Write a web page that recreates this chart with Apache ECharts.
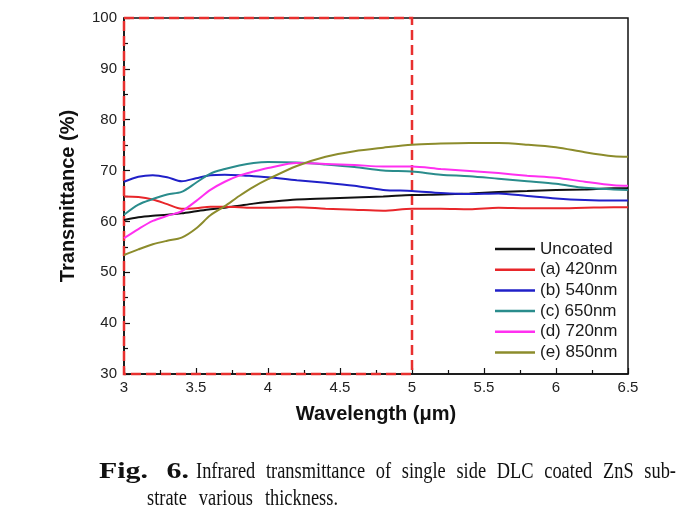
<!DOCTYPE html>
<html>
<head>
<meta charset="utf-8">
<script src="https://cdn.jsdelivr.net/npm/echarts@6/dist/echarts.min.js"></script>
<style>html,body{margin:0;padding:0;background:#fff;}#c{width:694px;height:518px;}</style>
</head>
<body>
<div id="c"></div>
<script>
var wavelength = [3.0, 3.1, 3.2, 3.3, 3.4, 3.5, 3.6, 3.7, 3.8, 3.9, 4.0, 4.2, 4.4, 4.6, 4.8, 5.0, 5.2, 5.4, 5.6, 5.8, 6.0, 6.2, 6.4, 6.5];
var uncoated = [60.3, 60.8, 61.1, 61.3, 61.6, 62.0, 62.4, 62.7, 63.1, 63.5, 63.8, 64.3, 64.5, 64.7, 64.9, 65.2, 65.3, 65.5, 65.8, 66.0, 66.2, 66.3, 66.5, 66.5];
var nm420 = [64.9, 64.8, 64.3, 63.4, 62.5, 62.6, 62.9, 62.9, 62.8, 62.7, 62.7, 62.8, 62.5, 62.3, 62.1, 62.5, 62.5, 62.4, 62.7, 62.6, 62.6, 62.7, 62.8, 62.8];
var nm540 = [67.8, 68.8, 69.1, 68.7, 67.9, 68.5, 69.1, 69.2, 69.1, 68.9, 68.7, 68.1, 67.6, 67.0, 66.2, 66.0, 65.6, 65.4, 65.5, 65.0, 64.5, 64.2, 64.1, 64.1];
var nm650 = [61.3, 63.3, 64.4, 65.3, 65.8, 67.6, 69.4, 70.3, 71.0, 71.5, 71.7, 71.6, 71.2, 70.7, 70.0, 69.8, 69.2, 68.9, 68.4, 67.9, 67.4, 66.6, 66.3, 66.2];
var nm720 = [56.7, 58.5, 60.1, 61.1, 62.0, 64.0, 66.2, 67.8, 69.0, 69.8, 70.5, 71.5, 71.3, 71.1, 70.8, 70.8, 70.3, 69.9, 69.5, 69.0, 68.6, 67.8, 67.1, 67.0];
var nm850 = [53.4, 54.5, 55.5, 56.2, 56.8, 58.6, 61.2, 63.0, 65.0, 66.8, 68.3, 70.9, 72.7, 73.8, 74.5, 75.1, 75.3, 75.4, 75.4, 75.1, 74.6, 73.6, 72.8, 72.7];
var seriesNames = ['Uncoated', '(a) 420nm', '(b) 540nm', '(c) 650nm', '(d) 720nm', '(e) 850nm'];
var seriesValues = [uncoated, nm420, nm540, nm650, nm720, nm850];
var seriesColors = ['#111111', '#e8262a', '#2020c8', '#2a8c8c', '#ff30f0', '#8c8c2c'];
var xTickLabels = ['3', '3.5', '4', '4.5', '5', '5.5', '6', '6.5'];
var captionBold = ['Fig.', '6.'];
var captionLine1 = ['Infrared', 'transmittance', 'of', 'single', 'side', 'DLC', 'coated', 'ZnS', 'sub-'];
var captionLine2 = ['strate', 'various', 'thickness.'];

function pairs(vals) {
  return wavelength.map(function (w, i) { return [w, vals[i]]; });
}

var series = seriesNames.map(function (n, k) {
  return {
    name: n, type: 'line', data: pairs(seriesValues[k]), showSymbol: false, smooth: 0.3,
    lineStyle: { color: seriesColors[k], width: 2 }, itemStyle: { color: seriesColors[k] },
    z: 3
  };
});
// red dashed highlight region 3–5 µm
series.push({
  name: 'region', type: 'line', data: [], z: 5, silent: true,
  markArea: {
    silent: true,
    itemStyle: { color: 'rgba(0,0,0,0)', borderColor: '#e8302f', borderWidth: 2.5, borderType: [10, 5] },
    data: [[{ coord: [3, 100] }, { coord: [5, 30] }]]
  }
});

// justified caption words (tall, condensed serif like the scan)
var ctx = document.createElement('canvas').getContext('2d');
var serif = '"Liberation Serif", "Times New Roman", serif';
function justify(words, x0, x1, y, font, scale) {
  ctx.font = font;
  var widths = words.map(function (w) { return ctx.measureText(w).width * scale; });
  var total = widths.reduce(function (a, b) { return a + b; }, 0);
  var gap = (x1 - x0 - total) / (words.length - 1);
  var x = x0, out = [];
  words.forEach(function (w, i) {
    out.push({ type: 'text', x: x, y: y, scaleX: scale, style: { text: w, font: font, fill: '#111', textVerticalAlign: 'middle' } });
    x += widths[i] + gap;
  });
  return out;
}
var regFont = '23px ' + serif, boldFont = 'bold 23px ' + serif;

var graphics = [
  { type: 'text', x: 68, y: 196, rotation: Math.PI / 2,
    style: { text: 'Transmittance (%)', font: 'bold 20px "Liberation Sans", Arial, sans-serif', fill: '#111', textAlign: 'center', textVerticalAlign: 'middle' } },
  { type: 'text', x: 376, y: 414,
    style: { text: 'Wavelength (\u03bcm)', font: 'bold 20px "Liberation Sans", Arial, sans-serif', fill: '#111', textAlign: 'center', textVerticalAlign: 'middle' } }
].concat(justify(captionBold, 99, 189, 472, boldFont, 1.3))
 .concat(justify(captionLine1, 196, 676, 472, regFont, 0.8))
 .concat(justify(captionLine2, 147, 338, 499, regFont, 0.8));

var chart = echarts.init(document.getElementById('c'), null, { renderer: 'canvas' });
chart.setOption({
  animation: false,
  backgroundColor: '#fff',
  grid: { left: 124, right: 66, top: 18, bottom: 144, show: true, borderColor: '#111', borderWidth: 1.5, backgroundColor: 'transparent' },
  legend: {
    data: seriesNames, orient: 'vertical', left: 490, top: 235,
    icon: 'rect', itemWidth: 40, itemHeight: 2.5, itemGap: 2.7, itemTextGap: 6,
    textStyle: { fontFamily: '"Liberation Sans", Arial, sans-serif', fontSize: 17, color: '#1a1a1a', lineHeight: 18 }
  },
  xAxis: {
    type: 'value', min: 3, max: 6.5, interval: 0.5,
    axisLine: { show: true, lineStyle: { color: '#111', width: 1.5 } },
    axisTick: { show: true, inside: true, length: 6, lineStyle: { color: '#111', width: 1.2 } },
    minorTick: { show: true, splitNumber: 2, length: 4, lineStyle: { color: '#111', width: 1.2 } },
    splitLine: { show: false },
    axisLabel: { margin: 6, fontSize: 15, color: '#222', fontFamily: '"Liberation Sans", Arial, sans-serif',
      formatter: function (v) { var i = Math.round((v - 3) / 0.5); return xTickLabels[i] !== undefined ? xTickLabels[i] : ''; } }
  },
  yAxis: {
    type: 'value', min: 30, max: 100, interval: 10,
    axisLine: { show: true, lineStyle: { color: '#111', width: 1.5 } },
    axisTick: { show: true, inside: true, length: 6, lineStyle: { color: '#111', width: 1.2 } },
    minorTick: { show: true, splitNumber: 2, length: 4, lineStyle: { color: '#111', width: 1.2 } },
    splitLine: { show: false },
    axisLabel: { margin: 7, fontSize: 15, color: '#222', fontFamily: '"Liberation Sans", Arial, sans-serif' }
  },
  graphic: graphics,
  series: series
});
</script>
</body>
</html>
